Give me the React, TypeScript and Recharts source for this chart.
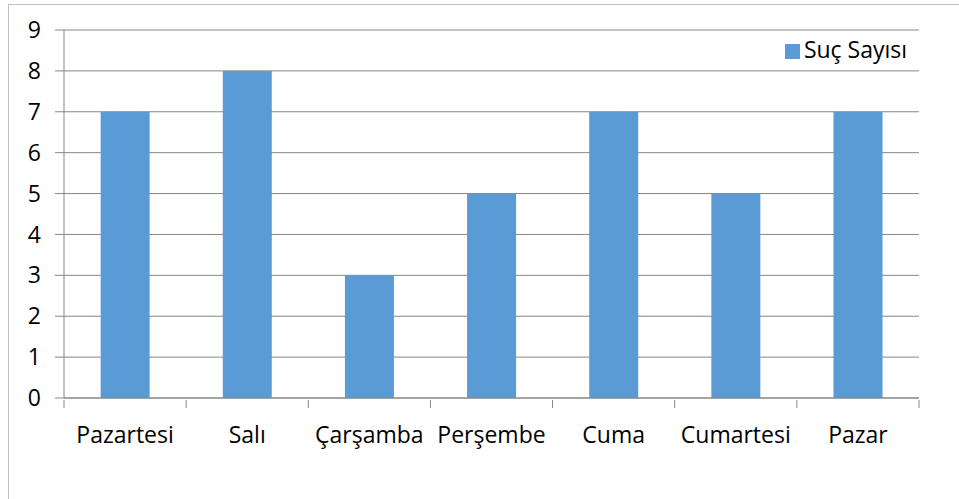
import { BarChart, Bar, XAxis, YAxis, CartesianGrid, Legend } from "recharts";

const days = ["Pazartesi", "Salı", "Çarşamba", "Perşembe", "Cuma", "Cumartesi", "Pazar"];
const crimeCounts = [7, 8, 3, 5, 7, 5, 7];
const yTicks = [0, 1, 2, 3, 4, 5, 6, 7, 8, 9];
const seriesName = "Suç Sayısı";

const W = 959;
const H = 499;
const M = { top: 30, right: 40, bottom: 0, left: 0 };
const X_H = 101;
const Y_W = 64;
const FONT = "'Open Sans', sans-serif";
const AXIS = "#868686";

const band = (W - M.left - M.right - Y_W) / days.length;

function DayTick(props: any) {
  const { x, y, payload, index } = props;
  const left = x - band / 2;
  return (
    <g>
      <line x1={left} y1={y - 8} x2={left} y2={y} stroke={AXIS} />
      {index === days.length - 1 && (
        <line x1={left + band} y1={y - 8} x2={left + band} y2={y} stroke={AXIS} />
      )}
      <text x={x} y={y + 35} textAnchor="middle" fill="#000" fontSize={23} fontFamily={FONT}>
        {payload.value}
      </text>
    </g>
  );
}

export default function App() {
  const data = days.map((d, i) => ({ day: d, count: crimeCounts[i] }));
  return (
    <div style={{ position: "absolute", left: 0, top: 0, width: W, height: H, overflow: "hidden", background: "#fff" }}>
      <div style={{ position: "absolute", left: 8, top: 4, width: 1200, height: 1200, border: "1px solid #bfbfbf" }} />
      <BarChart width={W} height={H} data={data} margin={M} barCategoryGap="30%">
        <CartesianGrid vertical={false} stroke={AXIS} />
        <XAxis
          dataKey="day"
          axisLine={{ stroke: AXIS }}
          tickLine={false}
          tick={<DayTick />}
          interval={0}
          tickSize={8}
          height={X_H}
        />
        <YAxis
          width={Y_W}
          domain={[0, 9]}
          ticks={yTicks}
          interval={0}
          axisLine={{ stroke: AXIS }}
          tickLine={{ stroke: AXIS }}
          tickSize={9}
          tickMargin={14}
          tick={{ fill: "#000", fontSize: 23, fontFamily: FONT }}
        />
        <Legend
          layout="horizontal"
          align="center"
          verticalAlign="middle"
          iconType="square"
          iconSize={15}
          wrapperStyle={{ position: "absolute", left: 766, top: 33, width: 170, height: 32, textAlign: "left", fontFamily: FONT, fontSize: 23 }}
          formatter={(v: string) => <span style={{ color: "#000" }}>{v}</span>}
        />
        <Bar dataKey="count" name={seriesName} fill="#5B9BD5" isAnimationActive={false} />
      </BarChart>
    </div>
  );
}
